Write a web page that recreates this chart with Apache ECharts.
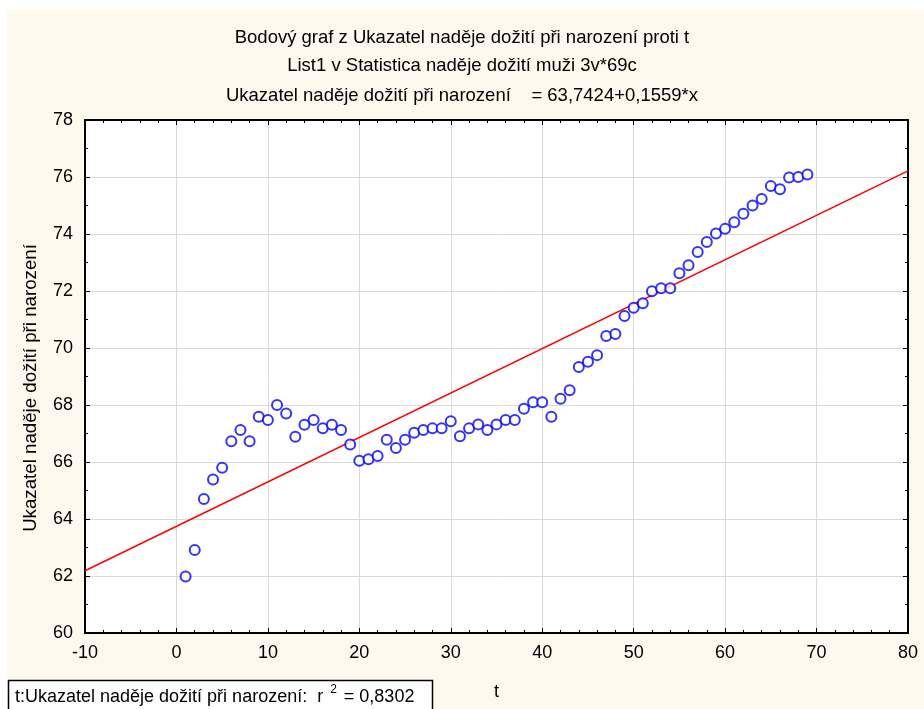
<!DOCTYPE html>
<html>
<head>
<meta charset="utf-8">
<script src="https://cdn.jsdelivr.net/npm/echarts@6/dist/echarts.min.js"></script>
<style>html,body{margin:0;padding:0;background:#fff}#c{width:924px;height:709px}</style>
</head>
<body>
<div id="c"></div>
<script>
const titleLines = [
  'Bodový graf z Ukazatel naděje dožití při narození proti t',
  'List1 v Statistica naděje dožití muži 3v*69c',
  'Ukazatel naděje dožití při narození    = 63,7424+0,1559*x'
];
const xName = 't';
const yName = 'Ukazatel naděje dožití při narození';
const tValues = [];
for (let i = 1; i <= 69; i++) tValues.push(i);
const lifeExp = [
  61.98, 62.91, 64.70, 65.39, 65.80, 66.73, 67.12, 66.73, 67.59, 67.47,
  68.00, 67.70, 66.89, 67.31, 67.47, 67.18, 67.31, 67.12, 66.61, 66.04,
  66.10, 66.21, 66.78, 66.49, 66.78, 67.03, 67.12, 67.18, 67.18, 67.43,
  66.90, 67.18, 67.32, 67.12, 67.32, 67.47, 67.47, 67.87, 68.10, 68.10,
  67.59, 68.22, 68.52, 69.33, 69.52, 69.75, 70.42, 70.49, 71.12, 71.41,
  71.57, 71.99, 72.10, 72.10, 72.62, 72.90, 73.37, 73.72, 74.02, 74.18,
  74.41, 74.71, 75.00, 75.23, 75.68, 75.57, 75.98, 76.00, 76.09
];
const intercept = 63.7424;
const slope = 0.1559;
const xRange = [-10, 80];
const yRange = [60, 78];
const r2Text = '0,8302';

const pts = tValues.map((t, i) => [t, lifeExp[i]]);
const fitLine = xRange.map(x => [x, intercept + slope * x]);

const chart = echarts.init(document.getElementById('c'), null, {renderer: 'canvas'});
const FONT = 'Liberation Sans, Arial, sans-serif';
const axisCommon = {
  axisLine: {show: true, onZero: false, lineStyle: {color: '#000', width: 2}},
  axisTick: {show: true, inside: true, length: 5, lineStyle: {color: '#000', width: 1}},
  minorTick: {show: true, splitNumber: 5, length: 3, lineStyle: {color: '#000', width: 1}},
};
chart.setOption({
  animation: false,
  backgroundColor: '#fff',
  graphic: [
    {type: 'rect', z: -10, shape: {x: 7, y: 10, width: 924, height: 709}, style: {fill: '#fdf9ef'}},
    {type: 'text', left: 'center', top: 28, style: {text: titleLines[0], font: '18.5px ' + FONT, fill: '#000'}},
    {type: 'text', left: 'center', top: 56, style: {text: titleLines[1], font: '18.5px ' + FONT, fill: '#000'}},
    {type: 'text', left: 'center', top: 86, style: {text: titleLines[2], font: '18.5px ' + FONT, fill: '#000'}},
    {type: 'text', x: 31, y: 388, rotation: Math.PI / 2, style: {
      text: yName, font: '18.7px ' + FONT, fill: '#000', align: 'center', verticalAlign: 'middle'
    }},
    {type: 'rect', shape: {x: 8.5, y: 680.5, width: 424, height: 40}, style: {fill: '#fff', stroke: '#000', lineWidth: 1.5}},
    {type: 'text', x: 15, y: 684, style: {
      text: '{a|t:Ukazatel naděje dožití při narození:  r }{s|2}{a| = ' + r2Text + '}',
      rich: {
        a: {font: '18px ' + FONT, fill: '#000', verticalAlign: 'bottom', lineHeight: 22},
        s: {font: '12px ' + FONT, fill: '#000', verticalAlign: 'top', lineHeight: 22, padding: [0, 2, 9, 2]}
      }
    }}
  ],
  grid: {left: 85, right: 16, top: 120, bottom: 76, show: true, backgroundColor: '#fff', borderWidth: 0},
  xAxis: [
    Object.assign({
      type: 'value', min: xRange[0], max: xRange[1], interval: 10, position: 'bottom',
      name: xName, nameLocation: 'middle', nameGap: 50,
      nameTextStyle: {fontSize: 18, fontFamily: FONT, color: '#000'},
      axisLabel: {fontSize: 18, fontFamily: FONT, color: '#000', margin: 11},
      splitLine: {show: true, lineStyle: {color: '#d9d9d9', width: 1}}
    }, axisCommon),
    Object.assign({
      type: 'value', min: xRange[0], max: xRange[1], interval: 10, position: 'top',
      axisLabel: {show: false}, splitLine: {show: false}
    }, axisCommon)
  ],
  yAxis: [
    Object.assign({
      type: 'value', min: yRange[0], max: yRange[1], interval: 2, position: 'left',
      axisLabel: {fontSize: 18, fontFamily: FONT, color: '#000', margin: 12},
      minorTick: {show: true, splitNumber: 2, length: 3, lineStyle: {color: '#000', width: 1}},
      splitLine: {show: true, lineStyle: {color: '#d9d9d9', width: 1}}
    }, {axisLine: axisCommon.axisLine, axisTick: axisCommon.axisTick}),
    Object.assign({
      type: 'value', min: yRange[0], max: yRange[1], interval: 2, position: 'right',
      axisLabel: {show: false}, splitLine: {show: false},
      minorTick: {show: true, splitNumber: 2, length: 3, lineStyle: {color: '#000', width: 1}}
    }, {axisLine: axisCommon.axisLine, axisTick: axisCommon.axisTick})
  ],
  series: [
    {
      type: 'line', data: fitLine, xAxisIndex: 0, yAxisIndex: 0,
      showSymbol: false, symbol: 'none', lineStyle: {color: '#ff0000', width: 1.5}, z: 2
    },
    {
      type: 'scatter', data: pts, xAxisIndex: 0, yAxisIndex: 0,
      symbol: 'emptyCircle', symbolSize: 10,
      itemStyle: {color: '#0000ff', borderColor: '#0000ff', borderWidth: 1.6}, z: 3
    }
  ]
});
</script>
</body>
</html>
